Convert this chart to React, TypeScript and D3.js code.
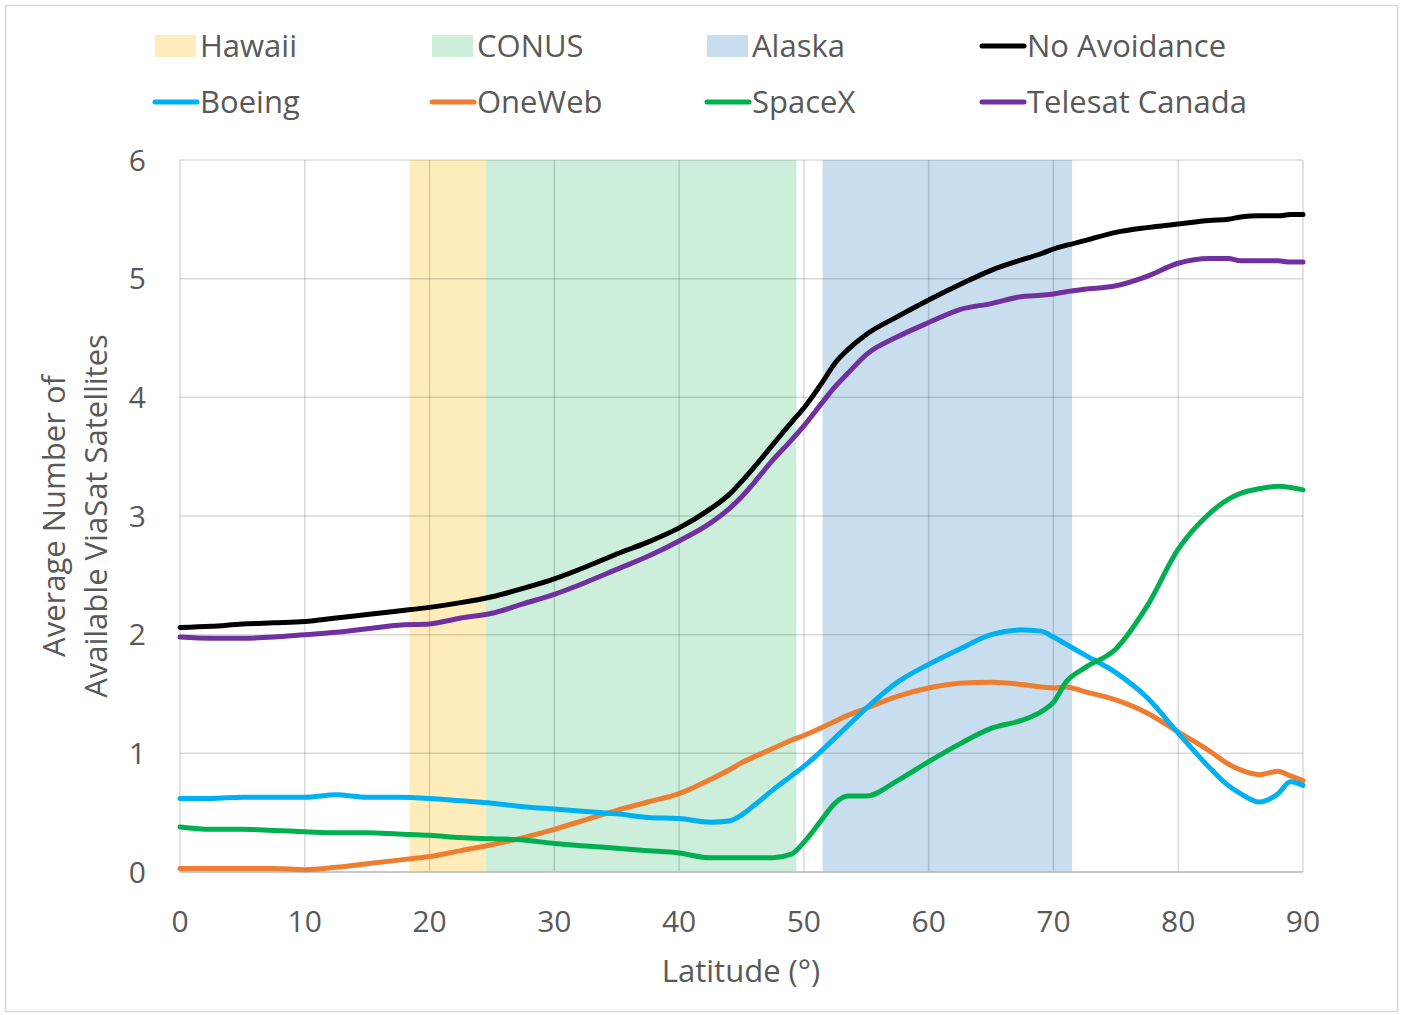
import React from "react";
import * as d3 from "d3";

const latitudes = [0, 2.5, 5, 7.5, 10, 12.5, 15, 17.5, 20, 22.5, 25, 27.5, 30, 32.5, 35, 37.5, 40, 42.5, 44, 45, 46, 47.5, 49, 50, 51.5, 52.5, 53.5, 55, 57.5, 60, 62.5, 65, 67.5, 69, 70, 71, 72.5, 75, 77.5, 80, 82.5, 84, 85, 86.5, 88, 89, 90];

const noAvoidance = [2.06, 2.07, 2.09, 2.10, 2.11, 2.14, 2.17, 2.20, 2.23, 2.27, 2.32, 2.39, 2.47, 2.57, 2.68, 2.78, 2.90, 3.06, 3.18, 3.29, 3.41, 3.60, 3.79, 3.91, 4.13, 4.29, 4.40, 4.53, 4.68, 4.82, 4.95, 5.07, 5.16, 5.21, 5.25, 5.28, 5.32, 5.39, 5.43, 5.46, 5.49, 5.50, 5.52, 5.53, 5.53, 5.54, 5.54];
const telesat = [1.98, 1.97, 1.97, 1.98, 2.00, 2.02, 2.05, 2.08, 2.09, 2.14, 2.18, 2.26, 2.34, 2.44, 2.55, 2.66, 2.79, 2.94, 3.06, 3.16, 3.28, 3.47, 3.64, 3.76, 3.96, 4.09, 4.20, 4.36, 4.51, 4.63, 4.74, 4.79, 4.85, 4.86, 4.87, 4.89, 4.91, 4.94, 5.02, 5.13, 5.17, 5.17, 5.15, 5.15, 5.15, 5.14, 5.14];
const boeing = [0.62, 0.62, 0.63, 0.63, 0.63, 0.65, 0.63, 0.63, 0.62, 0.60, 0.58, 0.55, 0.53, 0.51, 0.49, 0.46, 0.45, 0.42, 0.43, 0.48, 0.56, 0.69, 0.81, 0.89, 1.03, 1.13, 1.23, 1.38, 1.60, 1.75, 1.88, 2.00, 2.04, 2.03, 1.98, 1.92, 1.83, 1.68, 1.47, 1.17, 0.88, 0.73, 0.66, 0.59, 0.66, 0.76, 0.73];
const oneWeb = [0.03, 0.03, 0.03, 0.03, 0.02, 0.04, 0.07, 0.10, 0.13, 0.18, 0.23, 0.29, 0.36, 0.44, 0.52, 0.59, 0.66, 0.78, 0.86, 0.92, 0.97, 1.04, 1.11, 1.15, 1.22, 1.27, 1.32, 1.38, 1.48, 1.55, 1.59, 1.60, 1.58, 1.56, 1.55, 1.56, 1.52, 1.45, 1.34, 1.18, 1.02, 0.91, 0.86, 0.82, 0.85, 0.81, 0.77];
const spaceX = [0.38, 0.36, 0.36, 0.35, 0.34, 0.33, 0.33, 0.32, 0.31, 0.29, 0.28, 0.27, 0.24, 0.22, 0.20, 0.18, 0.16, 0.12, 0.12, 0.12, 0.12, 0.12, 0.15, 0.25, 0.45, 0.58, 0.64, 0.64, 0.77, 0.93, 1.08, 1.21, 1.28, 1.35, 1.43, 1.60, 1.72, 1.88, 2.24, 2.72, 3.02, 3.14, 3.19, 3.23, 3.25, 3.24, 3.22];

const regionNames = ["Hawaii", "CONUS", "Alaska"];
const regionStart = [18.4, 24.5, 51.5];
const regionEnd = [24.5, 49.4, 71.5];
const regionColors = ["#FFECBB", "#CCEEDA", "#C8DEEE"];

const seriesNames = ["No Avoidance", "Boeing", "OneWeb", "SpaceX", "Telesat Canada"];
const seriesValues = [noAvoidance, boeing, oneWeb, spaceX, telesat];
const seriesColors = ["#000000", "#00B0F0", "#ED7D31", "#00B050", "#7030A0"];

const xTicks = [0, 10, 20, 30, 40, 50, 60, 70, 80, 90];
const yTicks = [0, 1, 2, 3, 4, 5, 6];

const legendItems: { label: string; kind: "band" | "line"; color: string }[] = [
  { label: "Hawaii", kind: "band", color: regionColors[0] },
  { label: "CONUS", kind: "band", color: regionColors[1] },
  { label: "Alaska", kind: "band", color: regionColors[2] },
  { label: "No Avoidance", kind: "line", color: seriesColors[0] },
  { label: "Boeing", kind: "line", color: seriesColors[1] },
  { label: "OneWeb", kind: "line", color: seriesColors[2] },
  { label: "SpaceX", kind: "line", color: seriesColors[3] },
  { label: "Telesat Canada", kind: "line", color: seriesColors[4] },
];

const W = 1403;
const H = 1015;
const FONT = "'Open Sans', Lato, sans-serif";
const TEXT = "#595959";

export default function App() {
  const x = d3.scaleLinear().domain([0, 90]).range([180, 1303]);
  const y = d3.scaleLinear().domain([0, 6]).range([872, 160]);
  const line = d3
    .line<[number, number]>()
    .x((d) => x(d[0]))
    .y((d) => y(d[1]))
    .curve(d3.curveMonotoneX);

  const legendCols = [155, 432, 707, 982];
  const legendRows = [46, 102];
  const drawOrder = [2, 1, 3, 4, 0];

  return (
    <svg
      width={W}
      height={H}
      style={{ position: "absolute", left: 0, top: 0, background: "#fff" }}
      fontFamily={FONT}
    >
      <rect x={5.5} y={5.5} width={1392} height={1006} fill="#fff" stroke="#D9D9D9" strokeWidth={1.5} />

      {regionNames.map((n, i) => (
        <rect
          key={n}
          x={x(regionStart[i])}
          y={y(6)}
          width={x(regionEnd[i]) - x(regionStart[i])}
          height={y(0) - y(6)}
          fill={regionColors[i]}
        />
      ))}

      {yTicks.map((t) => (
        <line key={"gy" + t} x1={x(0)} x2={x(90)} y1={y(t)} y2={y(t)} stroke="rgba(0,0,0,0.15)" strokeWidth={1.5} />
      ))}
      {xTicks.map((t) => (
        <line key={"gx" + t} x1={x(t)} x2={x(t)} y1={y(0)} y2={y(6)} stroke="rgba(0,0,0,0.15)" strokeWidth={1.5} />
      ))}
      <line x1={x(0)} x2={x(90)} y1={y(0)} y2={y(0)} stroke="#BFBFBF" strokeWidth={1.5} />

      {drawOrder.map((si) => {
        const pts = latitudes.map((l, k) => [l, seriesValues[si][k]] as [number, number]);
        return (
          <path
            key={seriesNames[si]}
            d={line(pts) || ""}
            fill="none"
            stroke={seriesColors[si]}
            strokeWidth={5}
            strokeLinejoin="round"
            strokeLinecap="round"
          />
        );
      })}

      {yTicks.map((t) => (
        <text key={"ty" + t} x={146} y={y(t)} dy="0.36em" textAnchor="end" fontSize={30} fill={TEXT}>
          {t}
        </text>
      ))}
      {xTicks.map((t) => (
        <text key={"tx" + t} x={x(t)} y={932} textAnchor="middle" fontSize={30} fill={TEXT}>
          {t}
        </text>
      ))}

      <text x={741} y={982} textAnchor="middle" fontSize={31} fill={TEXT}>
        Latitude (°)
      </text>

      <g transform={`translate(0, ${y(3)}) rotate(-90)`}>
        <text x={0} y={65} textAnchor="middle" fontSize={31} fill={TEXT}>
          Average Number of
        </text>
        <text x={0} y={107} textAnchor="middle" fontSize={31} fill={TEXT}>
          Available ViaSat Satellites
        </text>
      </g>

      {legendItems.map((it, i) => {
        const cx = legendCols[i % 4];
        const cy = legendRows[Math.floor(i / 4)];
        return (
          <g key={it.label}>
            {it.kind === "band" ? (
              <rect x={cx} y={cy - 11} width={41} height={22} fill={it.color} />
            ) : (
              <line x1={cx} x2={cx + 42} y1={cy} y2={cy} stroke={it.color} strokeWidth={5} strokeLinecap="round" />
            )}
            <text x={cx + 45} y={cy} dy="0.36em" fontSize={31} fill={TEXT}>
              {it.label}
            </text>
          </g>
        );
      })}
    </svg>
  );
}
